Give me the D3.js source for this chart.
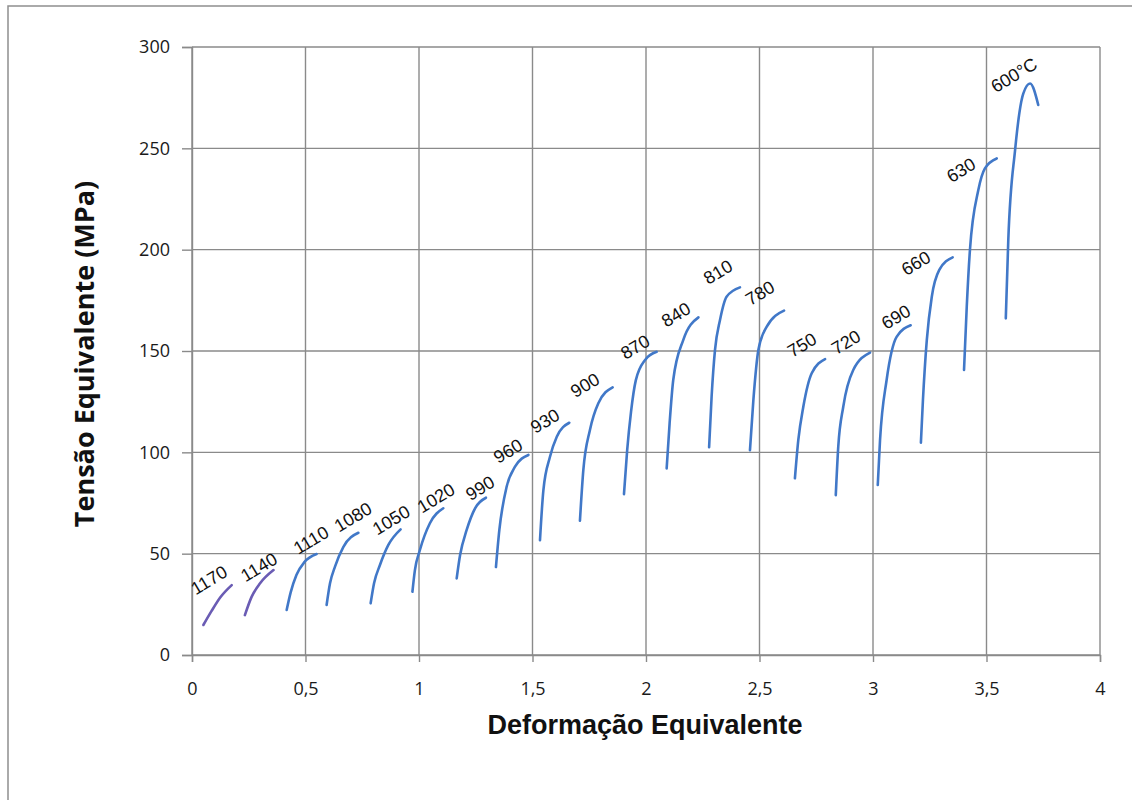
<!DOCTYPE html>
<html>
<head>
<meta charset="utf-8">
<script src="https://cdn.jsdelivr.net/npm/d3@7"></script>
<style>
  body { margin: 0; background: #fff; }
  .tick text { font-family: "Open Sans", sans-serif; font-size: 18px; fill: #1a1a1a; }
  .curve-label { font-family: "Liberation Sans", Arial, sans-serif; font-size: 18px; fill: #111; }
  .axis-title { font-weight: bold; fill: #111; }
</style>
</head>
<body>
<svg id="chart" width="1132" height="800"></svg>
<script>
// temperatures of each pass (°C)
const TEMPS = ["1170", "1140", "1110", "1080", "1050", "1020", "990", "960", "930", "900",
  "870", "840", "810", "780", "750", "720", "690", "660", "630", "600°C"];

// strain / stress points
const STRAIN = [
  [0.050, 0.085, 0.125, 0.175],
  [0.233, 0.263, 0.300, 0.359],
  [0.417, 0.435, 0.460, 0.495, 0.549],
  [0.593, 0.608, 0.630, 0.667, 0.733],
  [0.787, 0.802, 0.828, 0.865, 0.919],
  [0.971, 0.982, 1.004, 1.048, 1.107],
  [1.166, 1.181, 1.210, 1.247, 1.295],
  [1.339, 1.354, 1.386, 1.423, 1.482],
  [1.533, 1.548, 1.577, 1.607, 1.662],
  [1.709, 1.724, 1.753, 1.790, 1.853],
  [1.903, 1.917, 1.934, 1.955, 1.996, 2.047],
  [2.091, 2.104, 2.120, 2.164, 2.231],
  [2.278, 2.289, 2.304, 2.326, 2.355, 2.414],
  [2.458, 2.473, 2.495, 2.532, 2.608],
  [2.656, 2.671, 2.693, 2.730, 2.789],
  [2.836, 2.847, 2.869, 2.913, 2.987],
  [3.021, 3.031, 3.060, 3.104, 3.166],
  [3.211, 3.220, 3.237, 3.259, 3.292, 3.351],
  [3.401, 3.413, 3.427, 3.464, 3.493, 3.545],
  [3.585, 3.596, 3.626, 3.662, 3.692, 3.728]
];
const STRESS = [
  [14.8, 21.5, 28.5, 34.5],
  [19.7, 28.8, 35.4, 41.9],
  [22.2, 31.0, 39.5, 45.8, 49.8],
  [24.7, 35.4, 43.6, 53.4, 60.3],
  [25.5, 35.4, 44.4, 54.3, 62.0],
  [31.2, 41.9, 51.8, 65.0, 72.4],
  [37.8, 49.3, 61.7, 72.4, 77.6],
  [43.4, 61.7, 83.0, 92.9, 98.7],
  [56.7, 81.4, 97.8, 107.7, 114.6],
  [66.3, 91.3, 111.0, 124.2, 132.1],
  [79.4, 101.0, 120.0, 135.5, 145.6, 149.6],
  [92.1, 114.3, 135.7, 155.4, 166.6],
  [102.5, 127.4, 150.5, 165.3, 176.8, 181.4],
  [101.1, 125.8, 150.5, 162.0, 169.9],
  [87.2, 106.1, 122.5, 139.0, 146.0],
  [78.9, 102.8, 122.5, 140.6, 149.2],
  [83.9, 106.1, 135.7, 157.0, 162.7],
  [104.8, 125.8, 155.4, 176.8, 190.0, 196.2],
  [140.6, 171.8, 199.8, 229.4, 240.1, 245.0],
  [166.1, 204.8, 249.2, 277.0, 282.0, 271.4]
];

// where each temperature label sits (centre, in strain / stress units)
const LABEL_STRAIN = [0.075, 0.295, 0.524, 0.709, 0.877, 1.075, 1.269, 1.392, 1.555, 1.731,
  1.952, 2.132, 2.317, 2.502, 2.687, 2.881, 3.101, 3.189, 3.388, 3.621];
const LABEL_STRESS = [37.0, 43.4, 56.7, 68.1, 66.6, 77.5, 82.4, 100.7, 115.5, 133.2,
  152.0, 168.0, 189.0, 178.6, 153.0, 154.4, 166.8, 193.4, 239.3, 286.2];

const X_TICKS = [0, 0.5, 1, 1.5, 2, 2.5, 3, 3.5, 4];
const Y_TICKS = [0, 50, 100, 150, 200, 250, 300];

const svg = d3.select("#chart");

// outer frame
svg.append("rect")
  .attr("x", 8).attr("y", 6)
  .attr("width", 1140).attr("height", 820)
  .attr("fill", "none")
  .attr("stroke", "#8f8f8f")
  .attr("stroke-width", 1.5);

const x = d3.scaleLinear().domain([0, 4]).range([192, 1100]);
const y = d3.scaleLinear().domain([0, 300]).range([655, 47]);

// grid
const grid = svg.append("g").attr("class", "grid");
grid.selectAll("line.h").data(Y_TICKS).enter().append("line")
  .attr("x1", x(0)).attr("x2", x(4))
  .attr("y1", d => y(d)).attr("y2", d => y(d))
  .attr("stroke", "#8a8a8a").attr("stroke-width", 1.4);
grid.selectAll("line.v").data(X_TICKS).enter().append("line")
  .attr("y1", y(0)).attr("y2", y(300))
  .attr("x1", d => x(d)).attr("x2", d => x(d))
  .attr("stroke", "#8a8a8a").attr("stroke-width", 1.4);

// axes
const fmt = d => String(d).replace(".", ",");
const xAxis = svg.append("g")
  .attr("transform", `translate(0,${y(0)})`)
  .call(d3.axisBottom(x).tickValues(X_TICKS).tickFormat(fmt).tickSize(7).tickPadding(20));
const yAxis = svg.append("g")
  .attr("transform", `translate(${x(0)},0)`)
  .call(d3.axisLeft(y).tickValues(Y_TICKS).tickSize(10).tickPadding(12));
[xAxis, yAxis].forEach(a => {
  a.select(".domain").attr("stroke", "#8a8a8a").attr("stroke-width", 1.4);
  a.selectAll(".tick line").attr("stroke", "#8a8a8a").attr("stroke-width", 1.4);
});

// curves
const line = d3.line()
  .x(d => x(d[0]))
  .y(d => y(d[1]))
  .curve(d3.curveMonotoneX);

const curves = TEMPS.map((t, i) => ({
  temp: t,
  points: STRAIN[i].map((s, j) => [s, STRESS[i][j]]),
  lx: LABEL_STRAIN[i],
  ly: LABEL_STRESS[i]
}));

svg.append("g").attr("class", "curves")
  .selectAll("path").data(curves).enter().append("path")
  .attr("d", d => line(d.points))
  .attr("fill", "none")
  .attr("stroke", d => (d.temp === "1170" || d.temp === "1140") ? "#6a5cb4" : "#4178c8")
  .attr("stroke-width", 2.6)
  .attr("stroke-linecap", "round");

svg.append("g").attr("class", "labels")
  .selectAll("text").data(curves).enter().append("text")
  .attr("class", "curve-label")
  .attr("text-anchor", "middle")
  .attr("dy", "0.35em")
  .attr("transform", d => `translate(${x(d.lx)},${y(d.ly)}) rotate(-31)`)
  .text(d => d.temp);

// axis titles
svg.append("text")
  .attr("class", "axis-title")
  .attr("text-anchor", "middle")
  .attr("font-family", "'Liberation Sans', Arial, sans-serif")
  .attr("font-size", 27)
  .attr("x", 645).attr("y", 734)
  .text("Deformação Equivalente");

svg.append("text")
  .attr("class", "axis-title")
  .attr("text-anchor", "middle")
  .attr("font-family", "'Open Sans', sans-serif")
  .attr("font-size", 27)
  .attr("transform", `translate(94,354) rotate(-90)`)
  .text("Tensão Equivalente (MPa)");
</script>
</body>
</html>
